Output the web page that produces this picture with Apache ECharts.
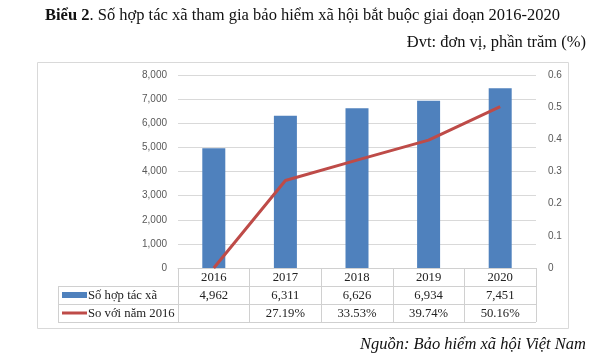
<!DOCTYPE html>
<html><head><meta charset="utf-8">
<script src="https://cdn.jsdelivr.net/npm/echarts@6/dist/echarts.min.js"></script>
<style>html,body{margin:0;padding:0;background:#fff}#c{width:600px;height:360px}</style>
</head><body><div id="c"></div>
<script>
const categories = ['2016', '2017', '2018', '2019', '2020'];
const coopCounts = [4962, 6311, 6626, 6934, 7451];
const vs2016 = [0, 0.2719, 0.3353, 0.3974, 0.5016];
const pctLabels = ['', '27.19%', '33.53%', '39.74%', '50.16%'];
const leftTicks = [0, 8000, 1000];
const rightTicks = [0, 0.6, 0.1];
const seriesNames = ['Số hợp tác xã', 'So với năm 2016'];

const serif = '"Liberation Serif", "Times New Roman", serif';
const sans = '"Liberation Sans", Arial, sans-serif';
const lineC = '#d0d0d0';
const countLabels = coopCounts.map(v => v.toLocaleString('en-US'));

const chart = echarts.init(document.getElementById('c'), null, {renderer: 'canvas'});
const tableAxis = (data, offset) => ({
  type: 'category', data, position: 'bottom', offset, gridIndex: 0,
  axisLine: {show: false}, axisTick: {show: false},
  axisLabel: {interval: 0, margin: 3, fontFamily: serif, fontSize: 12.7, color: '#222'}
});
chart.setOption({
  animation: false,
  title: {
    text: '{b|Biểu 2}. Số hợp tác xã tham gia bảo hiểm xã hội bắt buộc giai đoạn 2016-2020',
    left: 40, top: 2,
    textStyle: {fontFamily: serif, fontSize: 16.5, fontWeight: 'normal', color: '#111',
      rich: {b: {fontFamily: serif, fontSize: 16.5, fontWeight: 'bold', color: '#111'}}}
  },
  grid: {left: 178, right: 64, top: 75, bottom: 92},
  xAxis: [
    {
      type: 'category', data: categories, position: 'bottom',
      axisLine: {show: true, lineStyle: {color: lineC, width: 1}},
      axisTick: {show: true, length: 54, interval: 0, alignWithLabel: false, lineStyle: {color: lineC}},
      axisLabel: {interval: 0, margin: 3, fontFamily: serif, fontSize: 12.7, color: '#222'}
    },
    tableAxis(countLabels, 18),
    tableAxis(pctLabels, 36)
  ],
  yAxis: [
    {
      type: 'value', min: leftTicks[0], max: leftTicks[1], interval: leftTicks[2],
      axisLine: {show: false}, axisTick: {show: false},
      splitLine: {lineStyle: {color: '#d9d9d9'}},
      axisLabel: {margin: 11, fontFamily: sans, fontSize: 10, color: '#595959',
        formatter: v => v.toLocaleString('en-US')}
    },
    {
      type: 'value', min: rightTicks[0], max: rightTicks[1], interval: rightTicks[2],
      position: 'right',
      axisLine: {show: false}, axisTick: {show: false}, splitLine: {show: false},
      axisLabel: {margin: 12, fontFamily: sans, fontSize: 10, color: '#595959',
        formatter: v => String(+v.toFixed(1))}
    }
  ],
  series: [
    {name: seriesNames[0], type: 'bar', data: coopCounts, xAxisIndex: 0, yAxisIndex: 0,
      barWidth: 23, itemStyle: {color: '#4F81BD'}},
    {name: seriesNames[1], type: 'line', data: vs2016, xAxisIndex: 0, yAxisIndex: 1,
      symbol: 'none', lineStyle: {color: '#BE4B48', width: 3}, itemStyle: {color: '#BE4B48'}}
  ],
  graphic: [
    {type: 'rect', shape: {x: 37.5, y: 62.5, width: 531, height: 266}, style: {fill: 'none', stroke: '#d9d9d9', lineWidth: 1}, z: -1},
    {type: 'line', shape: {x1: 58, y1: 286.5, x2: 536, y2: 286.5}, style: {stroke: lineC, lineWidth: 1}},
    {type: 'line', shape: {x1: 58, y1: 304.5, x2: 536, y2: 304.5}, style: {stroke: lineC, lineWidth: 1}},
    {type: 'line', shape: {x1: 58, y1: 322.5, x2: 536, y2: 322.5}, style: {stroke: lineC, lineWidth: 1}},
    {type: 'line', shape: {x1: 58.5, y1: 286, x2: 58.5, y2: 323}, style: {stroke: lineC, lineWidth: 1}},
    {type: 'rect', shape: {x: 62, y: 292, width: 25, height: 6}, style: {fill: '#4F81BD'}},
    {type: 'line', shape: {x1: 62, y1: 313, x2: 87, y2: 313}, style: {stroke: '#BE4B48', lineWidth: 3}},
    {type: 'text', x: 88, y: 295.5, style: {text: seriesNames[0], font: '12.7px ' + serif, fill: '#222', textVerticalAlign: 'middle'}},
    {type: 'text', x: 88, y: 313.5, style: {text: seriesNames[1], font: '12.7px ' + serif, fill: '#222', textVerticalAlign: 'middle'}},
    {type: 'text', x: 586, y: 43, style: {text: 'Đvt: đơn vị, phần trăm (%)', font: '16.5px ' + serif, fill: '#111', textAlign: 'right', textVerticalAlign: 'middle'}},
    {type: 'text', x: 586, y: 345, style: {text: 'Nguồn: Bảo hiểm xã hội Việt Nam', font: 'italic 16.5px ' + serif, fill: '#111', textAlign: 'right', textVerticalAlign: 'middle'}}
  ]
});
</script></body></html>
